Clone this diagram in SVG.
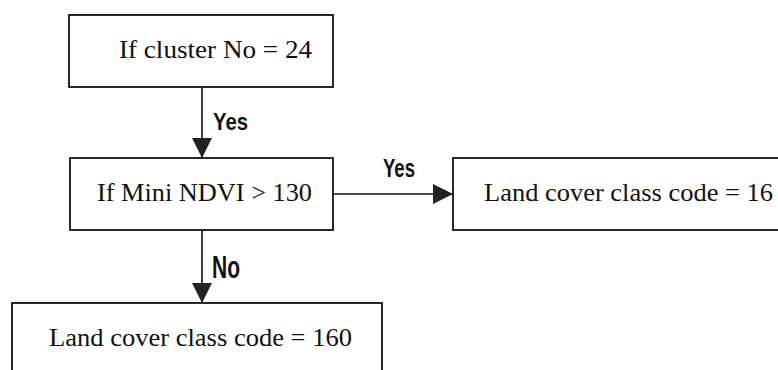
<svg xmlns="http://www.w3.org/2000/svg" width="778" height="370" viewBox="0 0 778 370">
  <defs>
    <marker id="arrow" markerUnits="userSpaceOnUse" markerWidth="20" markerHeight="20" viewBox="0 0 20 20" refX="20" refY="10" orient="auto">
      <path d="M0,0 L20,10 L0,20 Z" fill="#222"/>
    </marker>
  </defs>
  <style>
    .box { fill: #fff; stroke: #111; stroke-width: 1.8; }
    .label { font-family: "Liberation Serif", "Times New Roman", serif; font-size: 26px; fill: #111; }
    .edge { fill: none; stroke: #111; stroke-width: 1.6; marker-end: url(#arrow); }
    .tag { font-family: "Liberation Sans", Arial, sans-serif; font-weight: bold; fill: #111; }
  </style>
  <rect width="778" height="370" fill="#fff"/>

  <g id="connectors">
    <path class="edge" d="M202,88 V158"/>
    <path class="edge" d="M202,230 V303"/>
    <path class="edge" d="M333,194 H453"/>
    <text class="tag" x="213" y="130" font-size="24" textLength="35" lengthAdjust="spacingAndGlyphs">Yes</text>
    <text class="tag" x="212" y="278" font-size="32" textLength="28" lengthAdjust="spacingAndGlyphs">No</text>
    <text class="tag" x="383" y="177" font-size="26" textLength="32" lengthAdjust="spacingAndGlyphs">Yes</text>
  </g>

  <g id="cluster-check">
    <rect class="box" x="69" y="15" width="264" height="72"/>
    <text class="label" x="119" y="58" textLength="193" lengthAdjust="spacingAndGlyphs">If cluster No = 24</text>
  </g>

  <g id="ndvi-check">
    <rect class="box" x="70" y="158" width="263" height="72"/>
    <text class="label" x="97" y="201" textLength="215" lengthAdjust="spacingAndGlyphs">If Mini NDVI &gt; 130</text>
  </g>

  <g id="class-16">
    <rect class="box" x="453" y="158" width="400" height="72"/>
    <text class="label" x="484" y="201" textLength="289" lengthAdjust="spacingAndGlyphs">Land cover class code = 16</text>
  </g>

  <g id="class-160">
    <rect class="box" x="12" y="303" width="370" height="100"/>
    <text class="label" x="49" y="346" textLength="303" lengthAdjust="spacingAndGlyphs">Land cover class code = 160</text>
  </g>
</svg>
